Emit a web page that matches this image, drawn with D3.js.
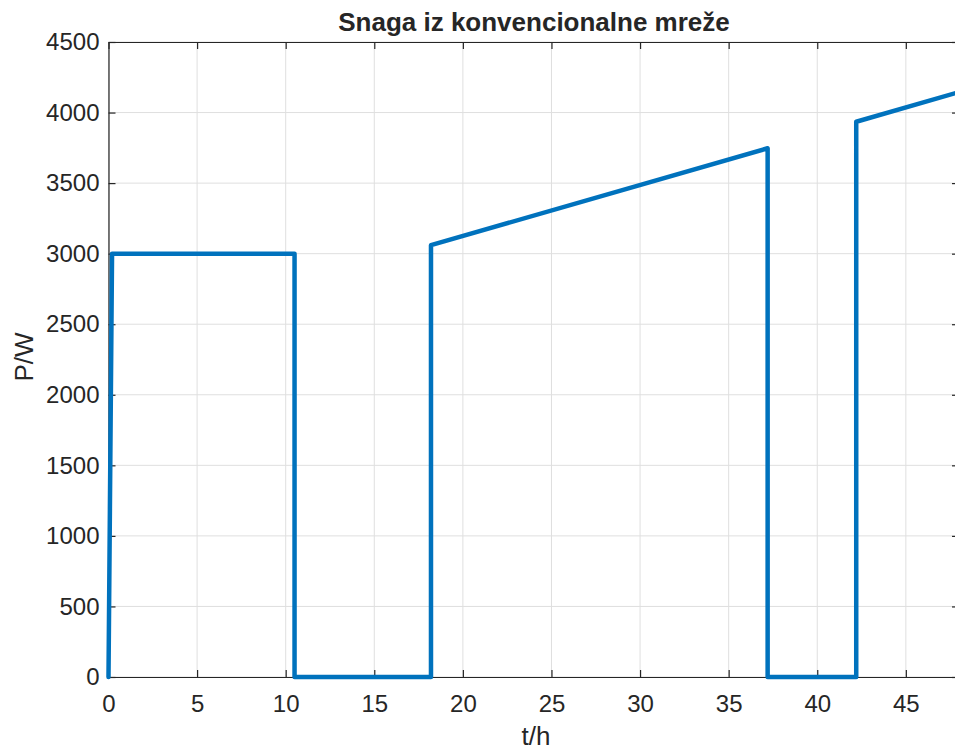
<!DOCTYPE html>
<html>
  <head>
    <script src="https://cdn.jsdelivr.net/npm/d3@7/dist/d3.min.js" charset="utf-8"></script>
    <style>
      body { margin: 0; background: #fff; overflow: hidden; }
      svg text { font-family: "Liberation Sans", Arial, sans-serif; fill: #262626; }
    </style>
  </head>
  <body>
    <svg id="chart" width="955" height="751"></svg>
    <script>
      // grid power (breakpoints of the polyline)
      var tHours = [0, 0.2, 10.5, 10.5, 18.2, 18.2, 37.2, 37.2, 42.2, 42.2, 48];
      var powerW = [0, 3000, 3000, 0, 0, 3060, 3747, 0, 0, 3935, 4145];
      var xTicks = [0, 5, 10, 15, 20, 25, 30, 35, 40, 45];
      var yTicks = [0, 500, 1000, 1500, 2000, 2500, 3000, 3500, 4000, 4500];

      var ds = tHours.map((t, i) => [t, powerW[i]]);

      var svg = d3.select("#chart");
      var mLeft = 108.5, mRight = 959, mTop = 42, mBottom = 677;

      var scaleX = d3.scaleLinear().domain([0, 48]).range([mLeft, mRight]);
      var scaleY = d3.scaleLinear().domain([0, 4500]).range([mBottom, mTop]);

      // grid
      var grid = svg.append("g").attr("stroke", "#dfdfdf").attr("stroke-width", 1);
      grid.selectAll("line.gx").data(xTicks).enter().append("line")
        .attr("x1", d => scaleX(d)).attr("x2", d => scaleX(d))
        .attr("y1", mTop).attr("y2", mBottom);
      grid.selectAll("line.gy").data(yTicks).enter().append("line")
        .attr("x1", mLeft).attr("x2", mRight)
        .attr("y1", d => scaleY(d)).attr("y2", d => scaleY(d));

      // axes, MATLAB style: ticks inside on all four sides
      function styleAxis(g) {
        g.selectAll("path.domain").attr("stroke", "#262626").attr("stroke-width", 1.2);
        g.selectAll(".tick line").attr("stroke", "#262626").attr("stroke-width", 1.2);
        g.selectAll(".tick text").attr("font-size", 24).style("fill", "#262626");
      }
      var fmt = d3.format("d");
      var xAxis = d3.axisBottom(scaleX).tickValues(xTicks).tickFormat(fmt)
        .tickSizeInner(-7).tickSizeOuter(0).tickPadding(18);
      svg.append("g").attr("transform", `translate(0,${mBottom})`).call(xAxis).call(styleAxis);
      var yAxis = d3.axisLeft(scaleY).tickValues(yTicks).tickFormat(fmt)
        .tickSizeInner(-7).tickSizeOuter(0).tickPadding(9);
      svg.append("g").attr("transform", `translate(${mLeft},0)`).call(yAxis).call(styleAxis);
      svg.append("g").attr("transform", `translate(0,${mTop})`)
        .call(d3.axisTop(scaleX).tickValues(xTicks).tickSizeInner(-7).tickSizeOuter(0).tickFormat(""))
        .call(styleAxis);
      svg.append("g").attr("transform", `translate(${mRight},0)`)
        .call(d3.axisRight(scaleY).tickValues(yTicks).tickSizeInner(-7).tickSizeOuter(0).tickFormat(""))
        .call(styleAxis);

      var line = d3.line().x(d => scaleX(d[0])).y(d => scaleY(d[1]));
      svg.append("path").attr("fill", "none").attr("stroke", "#0072BD")
        .attr("stroke-width", 4.5).attr("stroke-linejoin", "round").attr("stroke-linecap", "round")
        .attr("d", line(ds));

      // labels
      svg.append("text").attr("x", 534).attr("y", 31).attr("text-anchor", "middle")
        .attr("font-size", 26).attr("font-weight", "bold").text("Snaga iz konvencionalne mreže");
      svg.append("text").attr("x", 536).attr("y", 745).attr("text-anchor", "middle")
        .attr("font-size", 26).text("t/h");
      svg.append("text").attr("transform", "translate(33,357) rotate(-90)").attr("text-anchor", "middle")
        .attr("font-size", 26).text("P/W");
    </script>
  </body>
</html>
